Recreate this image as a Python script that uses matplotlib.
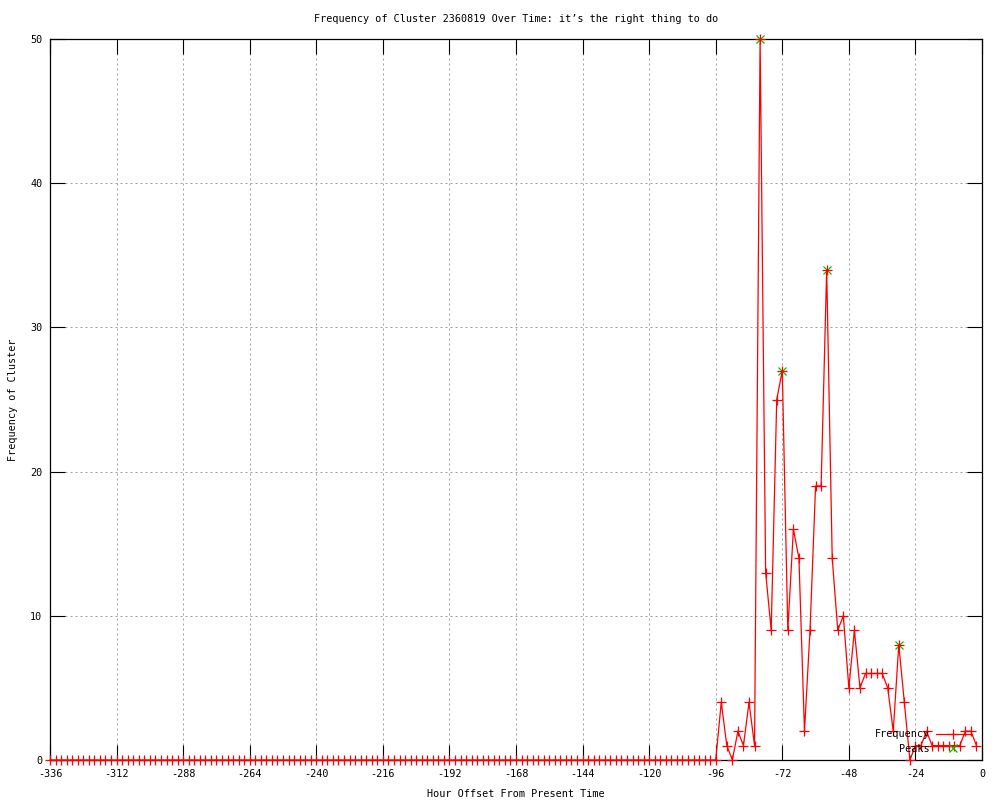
import matplotlib
matplotlib.use("Agg")
import matplotlib.pyplot as plt
import numpy as np

plt.rcParams['font.family'] = ['DejaVu Sans Mono']
plt.rcParams['axes.unicode_minus'] = False

# Data: hour offsets (every 2 hours from -336 to -2)
hours = list(range(-336, 0, 2))

frequency = [
    # -336 .. -98 (all zero)
    0, 0, 0, 0, 0, 0, 0, 0, 0, 0, 0, 0, 0, 0, 0, 0, 0, 0, 0, 0,
    0, 0, 0, 0, 0, 0, 0, 0, 0, 0, 0, 0, 0, 0, 0, 0, 0, 0, 0, 0,
    0, 0, 0, 0, 0, 0, 0, 0, 0, 0, 0, 0, 0, 0, 0, 0, 0, 0, 0, 0,
    0, 0, 0, 0, 0, 0, 0, 0, 0, 0, 0, 0, 0, 0, 0, 0, 0, 0, 0, 0,
    0, 0, 0, 0, 0, 0, 0, 0, 0, 0, 0, 0, 0, 0, 0, 0, 0, 0, 0, 0,
    0, 0, 0, 0, 0, 0, 0, 0, 0, 0, 0, 0, 0, 0, 0, 0, 0, 0, 0, 0,
    # -96 .. -2
    0, 4, 1, 0, 2, 1, 4, 1, 50, 13, 9, 25, 27, 9, 16, 14, 2, 9, 19, 19,
    34, 14, 9, 10, 5, 9, 5, 6, 6, 6, 6, 5, 2, 8, 4, 0, 1, 1, 2, 1,
    1, 1, 1, 1, 1, 2, 2, 1,
]

peak_hours = [-80, -72, -56, -30]
peak_values = [50, 27, 34, 8]

x_ticks = [-336, -312, -288, -264, -240, -216, -192, -168, -144, -120, -96, -72, -48, -24, 0]
y_ticks = [0, 10, 20, 30, 40, 50]

title = "Frequency of Cluster 2360819 Over Time: it\u2019s the right thing to do"
xlabel = "Hour Offset From Present Time"
ylabel = "Frequency of Cluster"

RED = '#ff0000'
GREEN = '#00c000'
FS = 7.3

fig = plt.figure(figsize=(10, 8), dpi=100)
ax = fig.add_axes([0.05, 0.05, 0.932, 0.90125])

ax.plot(hours, frequency, color=RED, lw=0.9, marker='+', markersize=6.5,
        markeredgewidth=0.9, label='Frequency', clip_on=False, zorder=5)
ax.plot(peak_hours, peak_values, linestyle='none', color=GREEN, marker='x',
        markersize=5.5, markeredgewidth=0.9, label='Peaks', clip_on=False, zorder=4)

ax.set_xlim(-336, 0)
ax.set_ylim(0, 50)
ax.set_xticks(x_ticks)
ax.set_yticks(y_ticks)
ax.tick_params(direction='in', length=11, width=0.8, top=True, right=True,
               labelsize=FS, colors='black')
ax.tick_params(axis='x', pad=6.5)
ax.tick_params(axis='y', pad=5.5)
ax.grid(True, color='#a0a0a0', linestyle=(0, (2, 3)), linewidth=0.72)
for s in ax.spines.values():
    s.set_linewidth(0.9)
    s.set_color('black')

ax.set_title(title, fontsize=FS, pad=12.5)
ax.set_xlabel(xlabel, fontsize=FS, labelpad=7)
ax.set_ylabel(ylabel, fontsize=FS, labelpad=9)

leg = ax.legend(loc='lower right', bbox_to_anchor=(0.992, 0.003), frameon=False,
                markerfirst=False, fontsize=FS, handlelength=3.4,
                handletextpad=0.6, labelspacing=0.45, numpoints=1,
                borderaxespad=0.0)

fig.savefig('out.png', dpi=100)
